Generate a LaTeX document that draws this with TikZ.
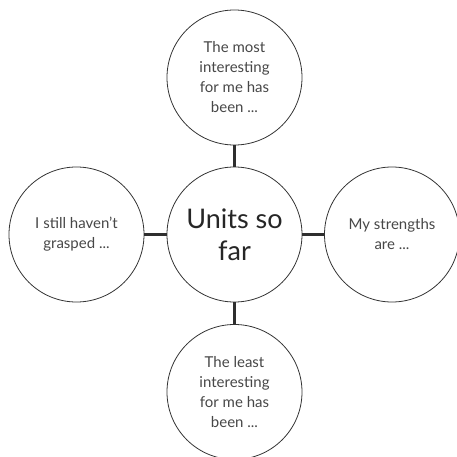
\documentclass[tikz,border=0pt]{standalone}
\usepackage{fontspec}
\setmainfont{Lato}
\usepackage{tikz}

\tikzset{
  bubble/.style={circle, draw=black!80, line width=0.8pt, minimum size=135pt, inner sep=0pt,
    align=center, text=black!72, font=\fontsize{15}{20}\selectfont},
  hub/.style={bubble, text=black!85, font=\fontsize{27}{32}\selectfont},
  link/.style={black!82, line width=2.6pt}
}

\begin{document}
\begin{tikzpicture}[x=1pt, y=-1pt]
                \useasboundingbox (0, 0) rectangle (457, 457);

                \node[hub] (units) at (234.5, 234.5) {Units so\\far};

                \node[bubble] (most) at (234.5, 77.5) {The most\\interesting\\for me has\\been ...};
                \node[bubble] (grasp) at (76.5, 234.5) {I still haven’t\\grasped ...};
                \node[bubble] (strong) at (392, 234.5) {My strengths\\are ...};
                \node[bubble] (least) at (234.5, 392) {The least\\interesting\\for me has\\been ...};

                \draw[link] (most) -- (units);
                \draw[link] (grasp) -- (units);
                \draw[link] (strong) -- (units);
                \draw[link] (least) -- (units);
            \end{tikzpicture}
\end{document}
